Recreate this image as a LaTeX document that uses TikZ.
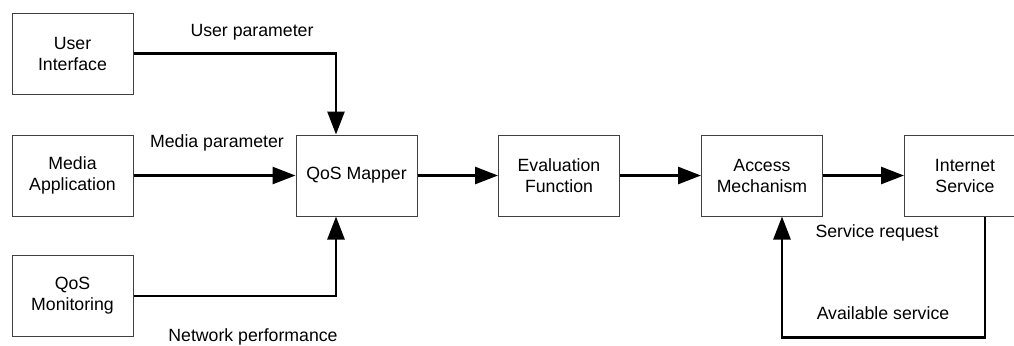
\documentclass[tikz,border=0pt]{standalone}
\usepackage{fontspec}
\setmainfont{Liberation Sans}
\usetikzlibrary{arrows.meta}

\tikzset{
  block/.style={draw=black!75, line width=0.5pt, minimum width=60.5pt, minimum height=40.5pt,
    inner sep=0pt, align=center, font=\fontsize{8.85}{10.5}\selectfont},
  lbl/.style={inner sep=0pt, font=\fontsize{8.85}{10.5}\selectfont},
  flow/.style={line width=1.35pt, -{Triangle[length=11.5pt,width=8.5pt]}}
}

\begin{document}
\begin{tikzpicture}[x=0.5pt,y=-0.5pt]
  \useasboundingbox (0,0) rectangle (1014,345);
  \clip (0,0) rectangle (1014,345);
  % left column
  \node[block] (ui) at (72.5,53.5) {User\\Interface};
  \node[block] (media) at (72.5,175.5) {Media\\Application};
  \node[block] (mon) at (72.5,296) {QoS\\Monitoring};
  % chain
  \node[block] (mapper) at (356.5,175.5) {QoS Mapper};
  \node[block] (eval) at (559,175.5) {Evaluation\\Function};
  \node[block] (access) at (762,175.5) {Access\\Mechanism};
  \node[block] (inet) at (965,175.5) {Internet\\Service};

  \draw[flow] (ui.east) -| ([xshift=-10.25pt]mapper.north);
  \draw[flow] (media) -- (mapper);
  \draw[flow] (mon.east) -| ([xshift=-10.25pt]mapper.south);
  \draw[flow] (mapper) -- (eval);
  \draw[flow] (eval) -- (access);
  \draw[flow] (access) -- (inet);
  \draw[flow] ([xshift=10pt]inet.south) -- ++(0,121) -| ([xshift=10pt]access.south);

  \node[lbl] (up) at (252,32) {User parameter};
  \node[lbl] (mp) at (217,143) {Media parameter};
  \node[lbl] (np) at (253,337) {Network performance};
  \node[lbl] (sr) at (877,233) {Service request};
  \node[lbl] (as) at (883,313) {Available service};
\end{tikzpicture}
\end{document}
